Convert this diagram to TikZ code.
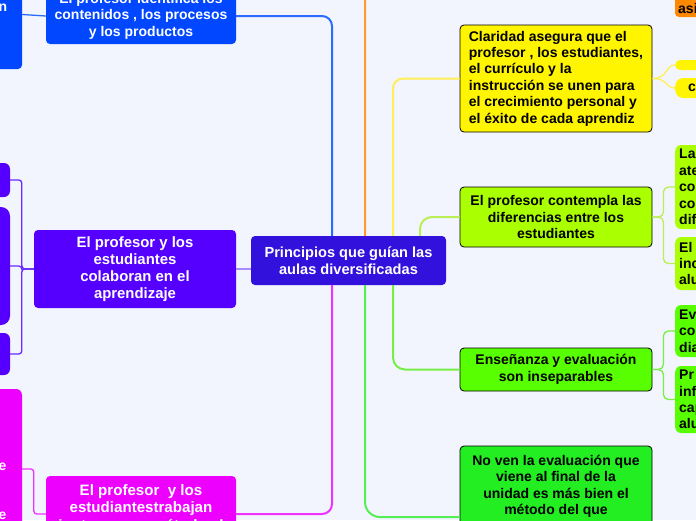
\documentclass[tikz,border=0pt]{standalone}
\usepackage{fontspec}
\setmainfont{Liberation Sans}
\definecolor{bg}{HTML}{F2F5FE}
\definecolor{cent}{HTML}{3311DD}
\definecolor{blu}{HTML}{0047FF}
\definecolor{bluL}{HTML}{2B6BFF}
\definecolor{pur}{HTML}{5500FF}
\definecolor{purL}{HTML}{A68CFF}
\definecolor{purD}{HTML}{6A2BFF}
\definecolor{mag}{HTML}{EE00FF}
\definecolor{magL}{HTML}{EE33FF}
\definecolor{ora}{HTML}{FF8800}
\definecolor{oraL}{HTML}{FF9A33}
\definecolor{yel}{HTML}{FFF500}
\definecolor{yelL}{HTML}{FFEE55}
\definecolor{ygr}{HTML}{AAFF00}
\definecolor{ygrL}{HTML}{BBEE55}
\definecolor{grn}{HTML}{58FF00}
\definecolor{grnL}{HTML}{77EE44}
\definecolor{bgrn}{HTML}{22EE22}
\definecolor{bgrnL}{HTML}{55EE55}
\begin{document}
\begin{tikzpicture}[x=1pt,y=-1pt,
  txt/.style={font=\bfseries\fontsize{14pt}{16.4pt}\selectfont},
  bigtxt/.style={font=\bfseries\fontsize{#1}{17pt}\selectfont},
  box/.style={txt, rounded corners=4pt, inner sep=0pt, align=center},
  wbox/.style={box, text=white},
  kbox/.style={box, draw=black, line width=0.8pt, text=black},
  kid/.style={txt, rounded corners=6pt, inner xsep=4pt, inner ysep=0pt, align=left, text=black, anchor=west, text width=52pt, minimum width=60pt},
  trunk/.style={line width=2pt},
  twig/.style={line width=1.3pt}]
\useasboundingbox (0,0) rectangle (696,520);
\clip (0,0) rectangle (696,520);
\fill[bg] (0,0) rectangle (696,520);

% central
\node[wbox, bigtxt=14.6pt, fill=cent, minimum width=195pt, minimum height=49pt] (c) at (348.5,260.5) {Principios que guían las\\aulas diversificadas};

% blue branch
\node[wbox, fill=blu, minimum width=190pt, minimum height=56pt] (ident) at (141,16) {El profesor identifica los\\contenidos , los procesos\\y los productos};
\node[wbox, fill=blu, minimum width=104pt, minimum height=109pt] (bl) at (-30,14.5) {};
\node[txt, text=white, inner sep=0pt] (bltxt) at (3,8) {n};

% orange branch
\node[wbox, fill=ora, minimum width=90pt, minimum height=74pt] (orn) at (720,-20) {};
\node[txt, text=black, inner sep=0pt, anchor=west] (orntxt) at (678,8) {asi};

% yellow branch
\node[kbox, fill=yel, minimum width=192pt, minimum height=107pt, align=left] (cl) at (556,78.5) {Claridad asegura que el\\profesor , los estudiantes,\\el currículo y la\\instrucción se unen para\\el crecimiento personal y\\el éxito de cada aprendiz};
\node[fill=yel, rounded corners=5pt, minimum width=60pt, minimum height=10pt, inner sep=0pt, anchor=west] (yc1) at (675,65) {};
\node[fill=yel, rounded corners=8pt, minimum width=60pt, minimum height=20pt, inner sep=0pt, anchor=west] (yc2) at (675,88) {};
\node[txt, text=black, inner sep=0pt, anchor=west] (yc2txt) at (688,88) {c};

% yellow-green branch
\node[kbox, fill=ygr, minimum width=192pt, minimum height=60pt] (cont) at (556,217) {El profesor contempla las\\diferencias entre los\\estudiantes};
\node[kid, fill=ygr, minimum height=84pt] (ygc1) at (675,187) {La\\ate\\co\\co\\dif};
\node[kid, fill=ygr, minimum height=53pt] (ygc2) at (675,263.5) {El\\inc\\alu};

% green branch
\node[kbox, fill=grn, minimum width=192pt, minimum height=43pt] (ens) at (556,369.5) {Enseñanza y evaluación\\son inseparables};
\node[kid, fill=grn, minimum height=52pt] (gc1) at (675,331) {Ev\\co\\dia};
\node[kid, fill=grn, minimum height=67pt] (gc2) at (675,399.5) {Pr\\inf\\cap\\alu};

% bright green branch
\node[kbox, fill=bgrn, minimum width=192pt, minimum height=142pt] (nov) at (556,517) {};
\node[txt, text=black, align=center, inner sep=0pt, anchor=north] (novtxt) at (556,455) {No ven la evaluación que\\viene al final de la\\unidad es más bien el\\método del que};

% purple branch
\node[wbox, bigtxt=14.9pt, fill=pur, minimum width=202pt, minimum height=78pt] (pu) at (135,269) {El profesor y los\\estudiantes\\colaboran en el\\aprendizaje};
\node[fill=pur, rounded corners=6pt, minimum width=60pt, minimum height=34pt, inner sep=0pt] (pc1) at (-20,180) {};
\node[fill=pur, rounded corners=9pt, minimum width=60pt, minimum height=118pt, inner sep=0pt] (pc2) at (-20,266) {};
\node[fill=pur, rounded corners=6pt, minimum width=60pt, minimum height=42pt, inner sep=0pt] (pc3) at (-20,354) {};

% magenta branch
\node[wbox, fill=mag, minimum width=190pt, minimum height=76pt] (mg) at (141,514) {};
\node[font=\bfseries\fontsize{15.1pt}{17.6pt}\selectfont, text=white, align=center, inner sep=0pt, anchor=north] (mgtxt) at (141,484) {El profesor \ y los\\estudiantestrabajan\\juntos en un método al};
\node[fill=mag, rounded corners=6pt, minimum width=84pt, minimum height=160pt, inner sep=0pt] (mc1) at (-20,469) {};
\node[txt, text=white, inner sep=0pt] (mc1a) at (2.5,467) {e};
\node[txt, text=white, inner sep=0pt] (mc1b) at (2.5,516) {e};

% trunk connectors
\draw[bluL, trunk, rounded corners=10pt] ([xshift=-16.5pt]c.north) |- (ident.east);
\draw[oraL, trunk, rounded corners=10pt] ([xshift=16.5pt]c.north) |- (orn.west);
\draw[yelL, trunk, rounded corners=10pt] ([xshift=44.5pt]c.north) |- (cl.west);
\draw[ygrL, trunk, rounded corners=12pt] ([xshift=71.5pt]c.north) |- (cont.west);
\draw[grnL, trunk, rounded corners=12pt] ([xshift=44.5pt]c.south) |- (ens.west);
\draw[bgrnL, trunk, rounded corners=15pt] ([xshift=16.5pt]c.south) |- (nov.west);
\draw[magL, trunk, rounded corners=10pt] ([xshift=-16.5pt]c.south) |- (mg.east);
\draw[purL, twig] (pu.east) -- (pu.east -| c.west);

% secondary connectors
\draw[bluL, twig] (ident.west) -- (bl.east);
\draw[yelL, twig] (cl.east) .. controls +(16,0) and +(-10,0) .. (yc1.west);
\draw[yelL, twig] (cl.east) .. controls +(16,0) and +(-10,0) .. (yc2.west);
\draw[ygrL, twig, rounded corners=5pt] (cont.east) -- ++(11,0) |- (ygc1.west);
\draw[ygrL, twig, rounded corners=5pt] (cont.east) -- ++(11,0) |- (ygc2.west);
\draw[grnL, twig, rounded corners=5pt] (ens.east) -- ++(11,0) |- (gc1.west);
\draw[grnL, twig, rounded corners=5pt] (ens.east) -- ++(11,0) |- (gc2.west);
\draw[purD, twig, rounded corners=3pt] (pu.west) -- ++(-12,0) |- (pc1.east);
\draw[purD, twig, rounded corners=3pt] (pu.west) -- ++(-12,0) |- (pc2.east);
\draw[purD, twig, rounded corners=3pt] (pu.west) -- ++(-12,0) |- (pc3.east);
\draw[magL, twig, rounded corners=3pt] (mg.west) -- ++(-12,0) |- (mc1.east);
\end{tikzpicture}
\end{document}
